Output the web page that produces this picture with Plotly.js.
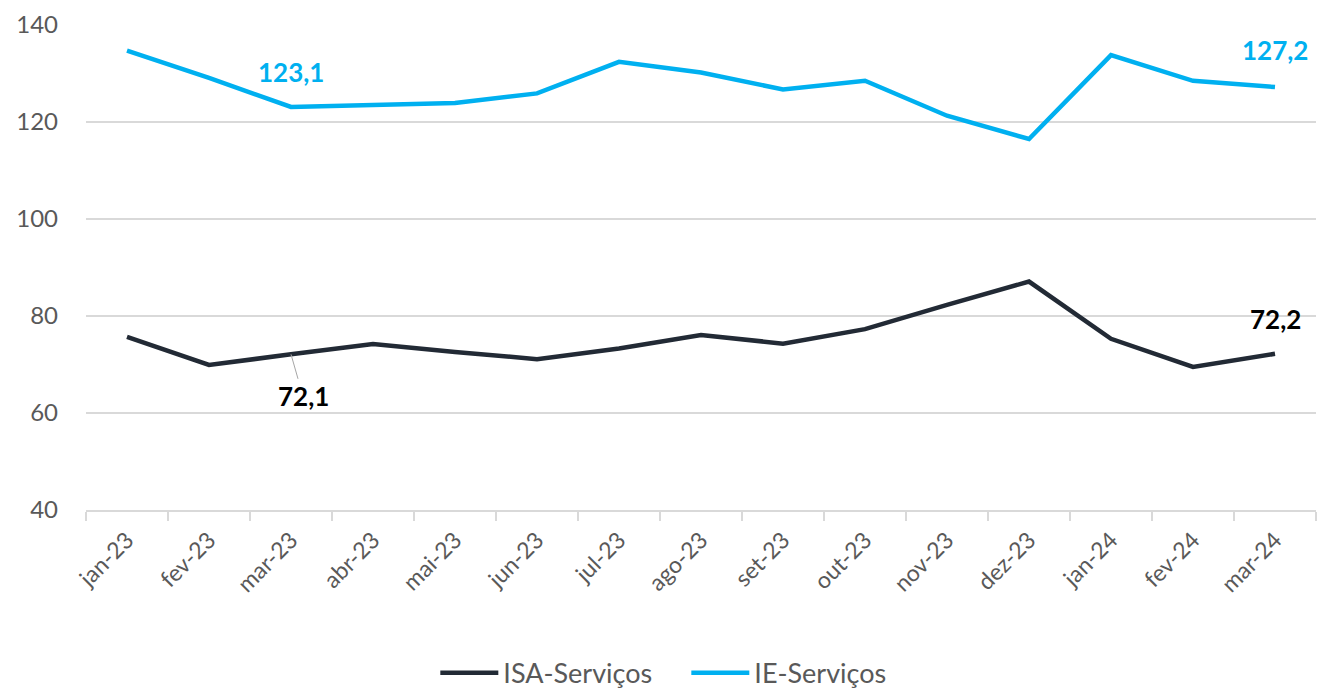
<!DOCTYPE html>
<html>
<head>
<meta charset="utf-8">
<script src="https://cdn.plot.ly/plotly-3.0.1.min.js"></script>
<style>html,body{margin:0;padding:0;background:#fff;}#chart{width:1317px;height:689px;}</style>
</head>
<body>
<div id="chart"></div>
<script>
const months = ["jan-23","fev-23","mar-23","abr-23","mai-23","jun-23","jul-23","ago-23","set-23","out-23","nov-23","dez-23","jan-24","fev-24","mar-24"];
const isaServicos = [75.7,69.9,72.1,74.2,72.6,71.1,73.3,76.1,74.3,77.3,82.3,87.1,75.3,69.5,72.2];
const ieServicos = [134.7,129.1,123.1,123.6,123.9,125.9,132.4,130.2,126.7,128.5,121.3,116.5,133.8,128.5,127.2];
const yTicks = [40,60,80,100,120,140];

const fontFam = "Lato, 'Open Sans', sans-serif";
const fmt = v => v.toFixed(1).replace('.', ',');

const traces = [
  {x: months, y: isaServicos, name: "ISA-Serviços", type: "scatter", mode: "lines",
   line: {color: "#222a35", width: 4.5}},
  {x: months, y: ieServicos, name: "IE-Serviços", type: "scatter", mode: "lines",
   line: {color: "#00b0f0", width: 4.5}}
];

const annotations = [
  {x: months[2], y: ieServicos[2], text: "<b>" + fmt(ieServicos[2]) + "</b>", showarrow: false,
   yshift: 35, font: {family: fontFam, size: 26, color: "#00b0f0"}},
  {x: months[14], y: ieServicos[14], text: "<b>" + fmt(ieServicos[14]) + "</b>", showarrow: false,
   yshift: 37, font: {family: fontFam, size: 26, color: "#00b0f0"}},
  {x: months[2], y: isaServicos[2], text: "<b>" + fmt(isaServicos[2]) + "</b>", showarrow: true,
   arrowhead: 0, arrowwidth: 1, arrowcolor: "#a6a6a6", ax: 12, ay: 42, standoff: 0,
   font: {family: fontFam, size: 26, color: "#000000"}},
  {x: months[14], y: isaServicos[14], text: "<b>" + fmt(isaServicos[14]) + "</b>", showarrow: false,
   yshift: 35, font: {family: fontFam, size: 26, color: "#000000"}}
];

const layout = {
  width: 1317, height: 689,
  margin: {l: 86, r: 1, t: 25, b: 179, autoexpand: false},
  paper_bgcolor: "#ffffff", plot_bgcolor: "#ffffff",
  font: {family: fontFam, color: "#595959"},
  xaxis: {
    type: "category", range: [-0.5, 14.5], tickangle: -45, automargin: false,
    tickson: "boundaries", ticks: "outside", ticklen: 9, tickcolor: "#d9d9d9", tickwidth: 1.5,
    showgrid: false, showline: true, linecolor: "#d9d9d9", linewidth: 1.5,
    ticklabelstandoff: 6,
    tickfont: {family: fontFam, size: 23, color: "#595959"}, fixedrange: true
  },
  yaxis: {
    range: [40, 140], tickvals: yTicks, ticktext: yTicks.map(String), automargin: false,
    showgrid: true, gridcolor: "#d9d9d9", gridwidth: 1.5, zeroline: false, showline: false,
    ticks: "", ticklabelstandoff: 27,
    tickfont: {family: fontFam, size: 24, color: "#595959"}, fixedrange: true
  },
  showlegend: true,
  legend: {orientation: "h", xref: "paper", x: 0.284, xanchor: "left",
    yref: "container", y: 0.023, yanchor: "middle",
    entrywidth: 178, entrywidthmode: "pixels",
    font: {family: fontFam, size: 27, color: "#595959"}, itemwidth: 58, tracegroupgap: 0},
  annotations: annotations
};

Plotly.newPlot("chart", traces, layout, {displayModeBar: false, staticPlot: true});
</script>
</body>
</html>
